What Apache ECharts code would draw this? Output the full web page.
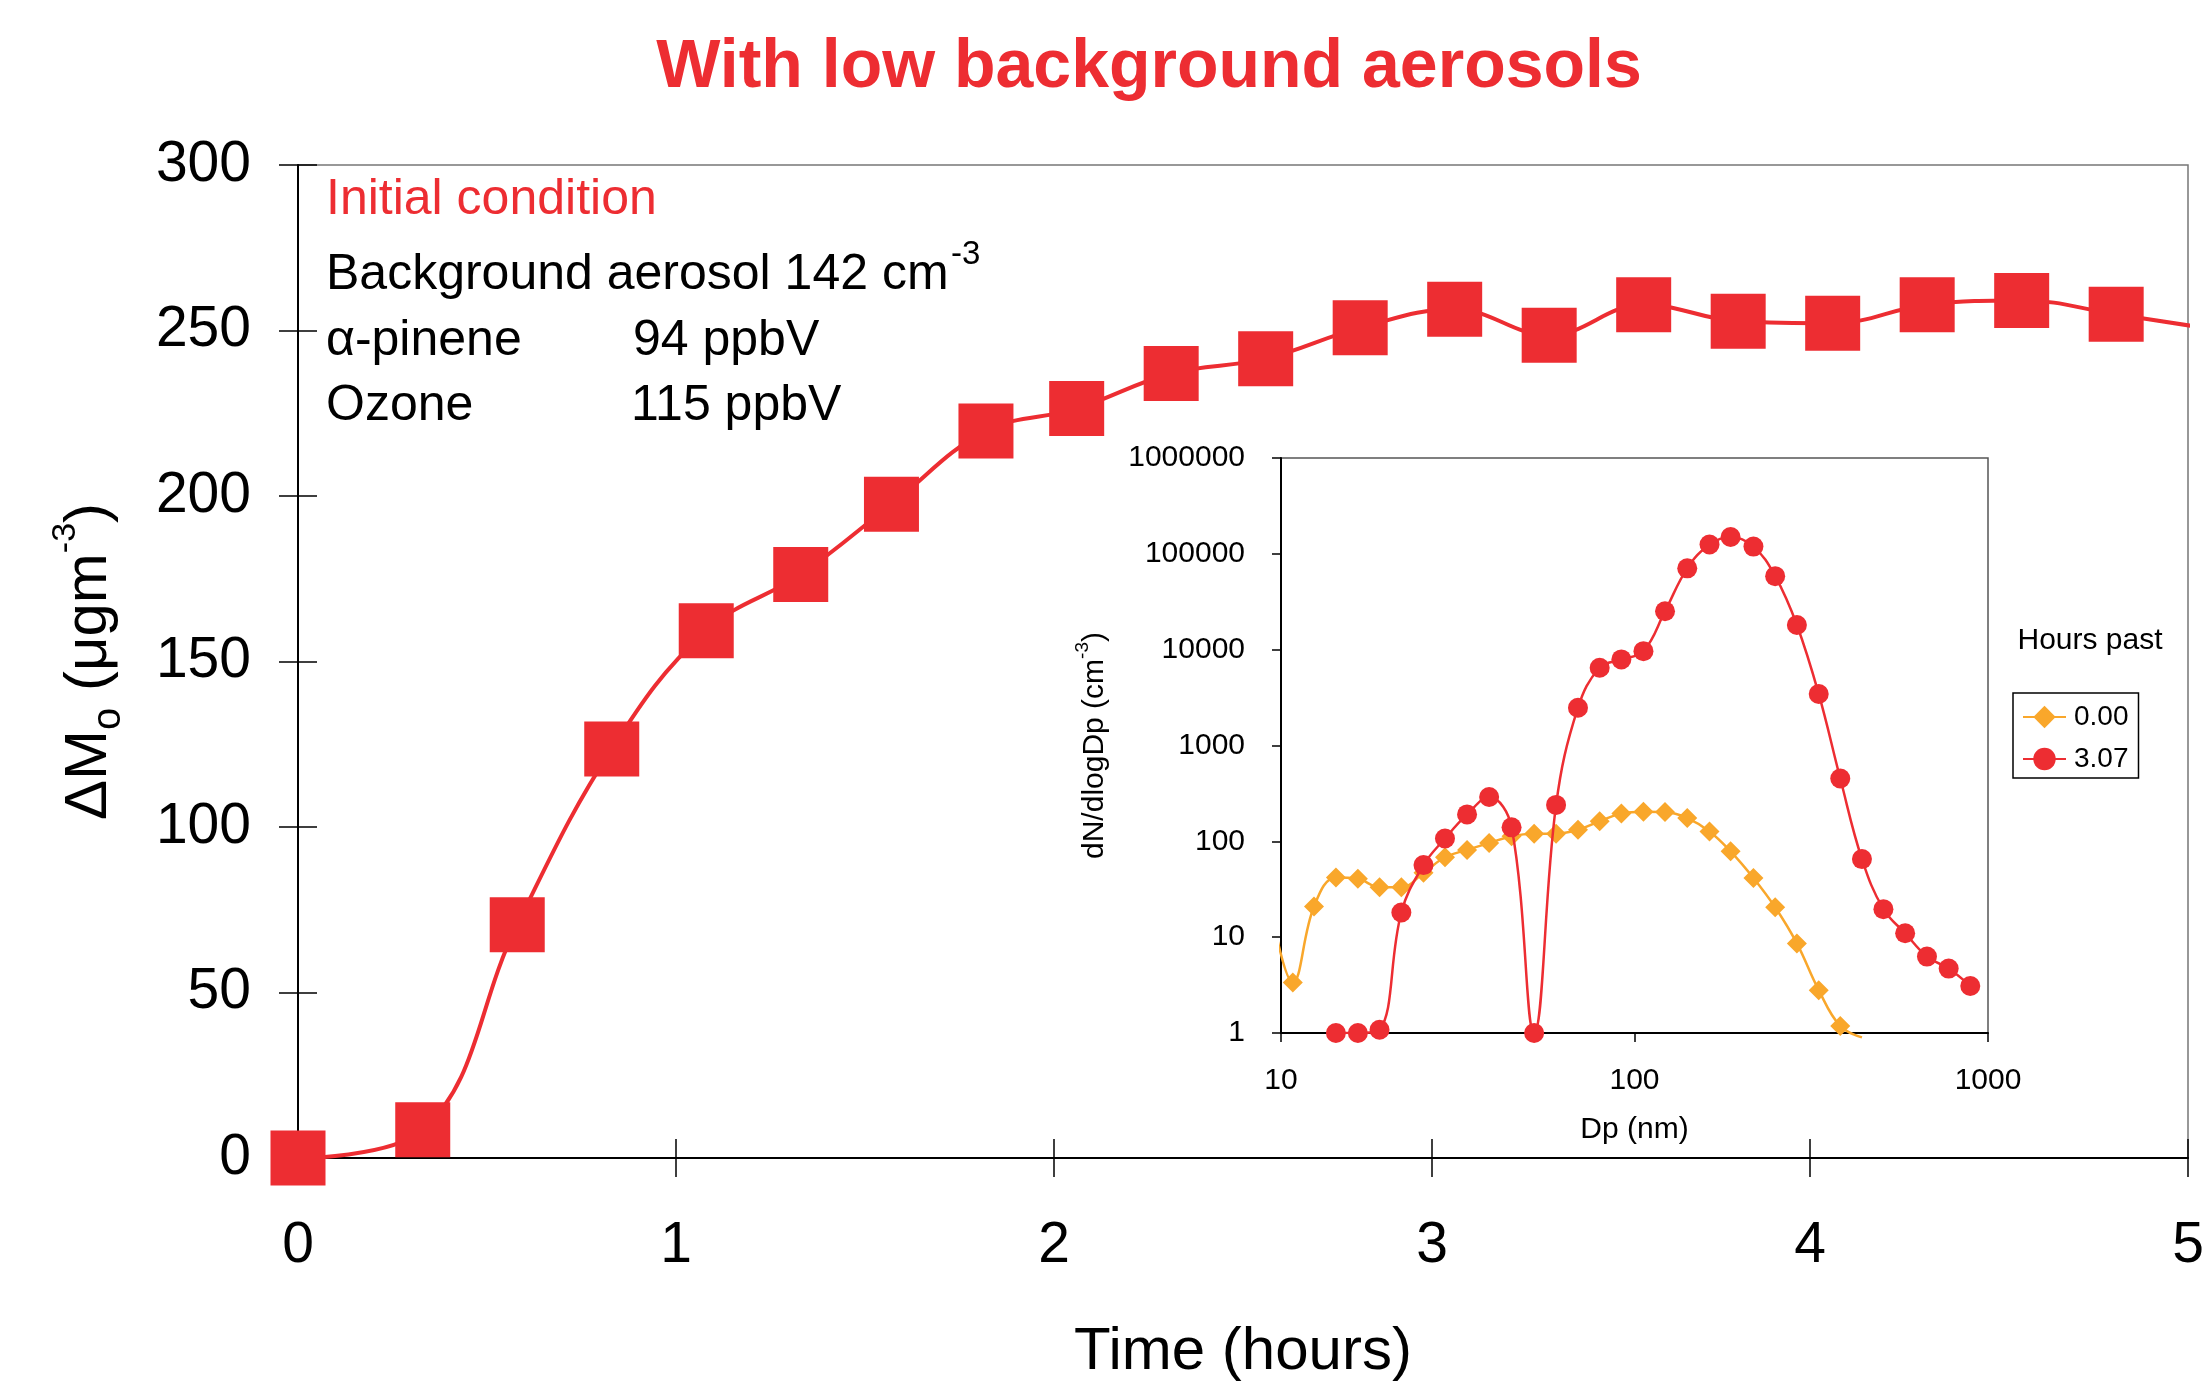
<!DOCTYPE html>
<html>
<head>
<meta charset="utf-8">
<title>With low background aerosols</title>
<script src="https://cdn.jsdelivr.net/npm/echarts@6/dist/echarts.min.js"></script>
<style>
  html, body { margin: 0; padding: 0; background: #fff; }
  #mychart { width: 2207px; height: 1382px; }
</style>
</head>
<body>
<div id="mychart"></div>
<script>
// 主图：有机气溶胶质量随时间
var hours = [0, 0.33, 0.58, 0.83, 1.08, 1.33, 1.57, 1.82, 2.06, 2.31, 2.56, 2.81, 3.06, 3.31, 3.56, 3.81, 4.06, 4.31, 4.56, 4.81];
var massO = [0, 8.5, 70.5, 123.6, 159.3, 176.3, 197.5, 219.6, 226.4, 237, 241.5, 250.8, 256.4, 248.6, 257.8, 252.8, 252.2, 257.8, 259.1, 254.9];
// 曲线超出右框，那里没有标记
var tailHours = [5.06];
var tailMass = [250.5];

// 小图：粒径分布
var dpNm = [10.8, 12.4, 14.3, 16.5, 19.0, 21.9, 25.3, 29.1, 33.6, 38.8, 44.9, 52.0, 60.0, 69.2, 79.7, 91.8,
            106, 122, 141, 163, 187, 217, 250, 288, 332, 382, 440, 506, 583, 672, 774, 891];
// 0.00 h 从 dpNm[0] 开始
var n000 = [3.37, 20.9, 42, 40.6, 33.2, 33.2, 46.9, 68.2, 81.4, 96, 113, 120, 120, 132, 162, 195,
            204, 202, 175, 127, 78.7, 41.5, 20.5, 8.6, 2.8, 1.18];
var n000Head = [[9.4, 18.7]];
var n000Tail = [[440, 0.9]];
// 3.07 h 从 dpNm[2] 开始
var n307 = [1, 1, 1.08, 18.1, 56.5, 107, 191, 290, 140, 1, 240, 2480, 6480, 7910, 9650, 25200,
            70600, 125000, 150000, 119000, 58500, 18100, 3450, 452, 65.3, 19.6, 11.0, 6.27, 4.70, 3.09];
var legendNames = ['0.00', '3.07'];

var FONT = '"Liberation Sans", Arial, sans-serif';
var RED = '#ED2D32';
var ORANGE = '#F9A72B';

var massData = [];
for (var i = 0; i < hours.length; i++) {
    massData.push([hours[i], massO[i]]);
}
for (var j = 0; j < tailHours.length; j++) {
    massData.push({ value: [tailHours[j], tailMass[j]], symbol: 'none' });
}

var orangeData = [];
n000Head.forEach(function (p) { orangeData.push({ value: p, symbol: 'none' }); });
for (var k = 0; k < n000.length; k++) {
    orangeData.push([dpNm[k], n000[k]]);
}
n000Tail.forEach(function (p) { orangeData.push({ value: p, symbol: 'none' }); });

var redData = [];
for (var m = 0; m < n307.length; m++) {
    redData.push([dpNm[m + 2], n307[m]]);
}

function txt(x, y, s, size, color, align) {
    return {
        type: 'text', x: x, y: y,
        style: {
            text: s, fill: color, font: size + 'px ' + FONT,
            textAlign: align || 'left', align: align || 'left',
            textVerticalAlign: 'middle', verticalAlign: 'middle'
        }
    };
}

var myChart = echarts.init(document.getElementById('mychart'));

var titleText = txt(1149, 68, 'With low background aerosols', 68, RED, 'center');
titleText.style.font = 'bold 68px ' + FONT;

myChart.setOption({
    animation: false,
    backgroundColor: '#fff',
    textStyle: { fontFamily: FONT },
    grid: [
        { left: 298, top: 165, width: 1890, height: 993, outerBoundsMode: 'none', containLabel: false, show: true, borderColor: '#777', borderWidth: 1.5, backgroundColor: 'transparent' },
        { left: 1281, top: 458, width: 707, height: 575, outerBoundsMode: 'none', containLabel: false, show: true, borderColor: '#555', borderWidth: 1.5, backgroundColor: '#fff' }
    ],
    legend: {
        data: legendNames,
        orient: 'vertical',
        left: 2013,
        top: 693,
        itemWidth: 43,
        itemHeight: 28,
        itemGap: 14,
        padding: [10, 10, 5, 9],
        borderColor: '#000',
        borderWidth: 1.5,
        textStyle: { fontSize: 28, color: '#000', fontFamily: FONT, padding: [0, 0, 0, 3] }
    },
    xAxis: [
        {
            gridIndex: 0, type: 'value', min: 0, max: 5, interval: 1,
            name: 'Time (hours)', nameLocation: 'middle', nameGap: 164,
            nameTextStyle: { fontSize: 60, color: '#000', fontFamily: FONT },
            axisLine: { lineStyle: { color: '#000', width: 2 } },
            axisTick: { length: 19, lineStyle: { color: '#000', width: 1.5 } },
            axisLabel: { fontSize: 57, color: '#000', margin: 60, fontFamily: FONT },
            splitLine: { show: false }
        },
        {
            gridIndex: 0, type: 'value', min: 0, max: 5, interval: 1, position: 'bottom',
            axisLine: { show: false },
            axisTick: { inside: true, length: 19, lineStyle: { color: '#000', width: 1.5 } },
            axisLabel: { show: false },
            splitLine: { show: false }
        },
        {
            gridIndex: 1, type: 'log', logBase: 10, min: 10, max: 1000,
            name: 'Dp (nm)', nameLocation: 'middle', nameGap: 82,
            nameTextStyle: { fontSize: 30, color: '#000', fontFamily: FONT },
            axisLine: { lineStyle: { color: '#000', width: 2 } },
            axisTick: { length: 9, lineStyle: { color: '#000', width: 1.5 } },
            axisLabel: {
                fontSize: 30, color: '#000', margin: 33, fontFamily: FONT,
                formatter: function (v) { return String(Math.round(v)); }
            },
            splitLine: { show: false }
        }
    ],
    yAxis: [
        {
            gridIndex: 0, type: 'value', min: 0, max: 300, interval: 50,
            name: '{a|\u0394M}{sub|o}{a| (\u03bcgm}{sup|-3}{a|)}',
            nameLocation: 'middle', nameRotate: 90, nameGap: 169,
            nameTextStyle: {
                color: '#000', fontFamily: FONT,
                rich: {
                    a: { fontSize: 60, lineHeight: 80, color: '#000', fontFamily: FONT },
                    sub: { fontSize: 40, lineHeight: 63, verticalAlign: 'bottom', color: '#000', fontFamily: FONT },
                    sup: { fontSize: 34, lineHeight: 27, verticalAlign: 'top', color: '#000', fontFamily: FONT }
                }
            },
            axisLine: { show: true, lineStyle: { color: '#000', width: 2 } },
            axisTick: { show: true, length: 19, lineStyle: { color: '#000', width: 1.5 } },
            axisLabel: { fontSize: 57, color: '#000', margin: 47, fontFamily: FONT },
            splitLine: { show: false }
        },
        {
            gridIndex: 0, type: 'value', min: 0, max: 300, interval: 50, position: 'left',
            axisLine: { show: false },
            axisTick: { show: true, inside: true, length: 19, lineStyle: { color: '#000', width: 1.5 } },
            axisLabel: { show: false },
            splitLine: { show: false }
        },
        {
            gridIndex: 1, type: 'log', logBase: 10, min: 1, max: 1000000,
            name: '{a|dN/dlogDp (cm}{sup|-3}{a|)}',
            nameLocation: 'middle', nameRotate: 90, nameGap: 164,
            nameTextStyle: {
                color: '#000', fontFamily: FONT,
                rich: {
                    a: { fontSize: 30, lineHeight: 44, color: '#000', fontFamily: FONT },
                    sup: { fontSize: 19, lineHeight: 13, verticalAlign: 'top', color: '#000', fontFamily: FONT }
                }
            },
            axisLine: { show: true, lineStyle: { color: '#000', width: 2 } },
            axisTick: { show: true, length: 9, lineStyle: { color: '#000', width: 1.5 } },
            axisLabel: {
                fontSize: 30, color: '#000', margin: 36, fontFamily: FONT,
                formatter: function (v) { return String(Math.round(v)); }
            },
            splitLine: { show: false }
        }
    ],
    graphic: [
        titleText,
        txt(326, 200, 'Initial condition', 50, RED),
        txt(326, 275, 'Background aerosol 142 cm', 50, '#000'),
        txt(951, 255, '-3', 33, '#000'),
        txt(326, 341, '\u03b1-pinene', 50, '#000'),
        txt(633, 341, '94 ppbV', 50, '#000'),
        txt(326, 406, 'Ozone', 50, '#000'),
        txt(631, 406, '115 ppbV', 50, '#000'),
        txt(2090, 641, 'Hours past', 30, '#000', 'center')
    ],
    series: [
        {
            name: 'mass',
            type: 'line',
            xAxisIndex: 0,
            yAxisIndex: 0,
            data: massData,
            smooth: 0.4,
            clip: false,
            symbol: 'rect',
            symbolSize: 55,
            lineStyle: { color: RED, width: 4 },
            itemStyle: { color: RED },
            z: 3
        },
        {
            name: legendNames[0],
            type: 'line',
            xAxisIndex: 2,
            yAxisIndex: 2,
            data: orangeData,
            smooth: 0.4,
            clip: false,
            symbol: 'diamond',
            symbolSize: 20,
            lineStyle: { color: ORANGE, width: 2.5 },
            itemStyle: { color: ORANGE },
            z: 4
        },
        {
            name: legendNames[1],
            type: 'line',
            xAxisIndex: 2,
            yAxisIndex: 2,
            data: redData,
            smooth: 0.4,
            symbol: 'circle',
            symbolSize: 20,
            lineStyle: { color: RED, width: 2.5 },
            itemStyle: { color: RED },
            z: 5
        }
    ]
});
</script>
</body>
</html>
